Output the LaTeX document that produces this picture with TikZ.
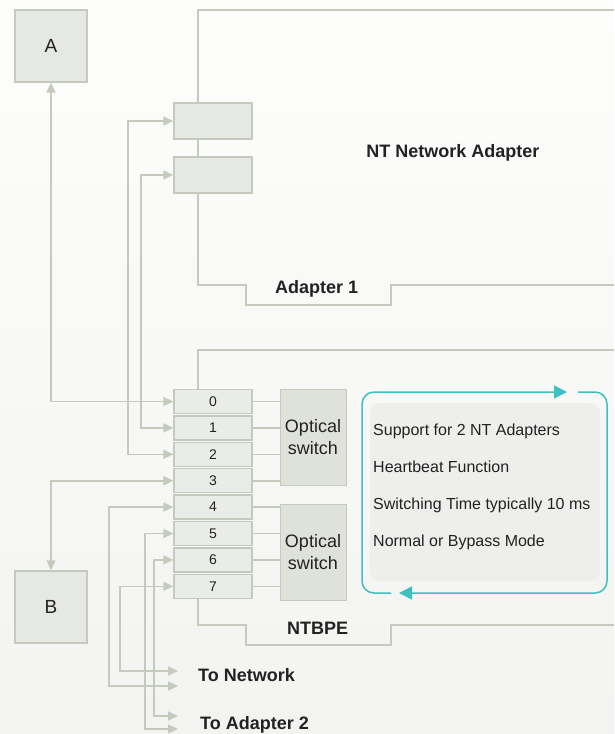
\documentclass[tikz,border=0pt]{standalone}
\usepackage{fontspec}
\setmainfont{Liberation Sans}
\usetikzlibrary{arrows.meta}
\definecolor{lnc}{HTML}{C4CBBE}
\definecolor{boxfill}{HTML}{E6E8E3}
\definecolor{portfill}{HTML}{EAECE7}
\definecolor{swfill}{HTML}{DFE1DB}
\definecolor{teal1}{HTML}{3FC0C0}
\definecolor{infofill}{HTML}{EEEFEC}
\definecolor{txt}{HTML}{222222}
\definecolor{bgtop}{HTML}{FDFDFC}
\definecolor{bgbot}{HTML}{F3F3F1}
\begin{document}
\begin{tikzpicture}[x=1pt,y=-1pt,
  conn/.style={draw=lnc, line width=1.6pt},
  biarrow/.style={conn, {Triangle[length=10pt,width=9pt]}-{Triangle[length=10pt,width=9pt]}},
  gbox/.style={draw=lnc, line width=1.4pt, fill=boxfill, inner sep=0pt, text=txt},
  bigbox/.style={gbox, minimum width=72pt, minimum height=72pt, font=\fontsize{19}{22}\selectfont},
  adbox/.style={gbox, minimum width=78pt, minimum height=36pt},
  portbox/.style={gbox, fill=portfill, minimum width=78pt, minimum height=24pt, font=\fontsize{14}{16}\selectfont},
  swbox/.style={draw=lnc, line width=1pt, fill=swfill, inner sep=0pt, minimum width=66pt, minimum height=96pt, align=center, text=txt, font=\fontsize{18}{22.7}\selectfont},
  blabel/.style={text=txt, font=\bfseries\fontsize{18}{21}\selectfont, inner sep=0pt},
  info/.style={text=txt, font=\fontsize{16}{19}\selectfont, inner sep=0pt, anchor=base west},
  tealarrow/.style={draw=teal1, line width=1.5pt, rounded corners=12pt, -{Triangle[length=13pt,width=13pt]}}
]
% background
\begin{scope}[y=1pt]
\shade[top color=bgtop, bottom color=bgbot] (0,-734) rectangle (614,0);
\end{scope}
\useasboundingbox (0,0) rectangle (614,734);

% nodes
\node[bigbox] (A) at (51,46) {A};
\node[bigbox] (B) at (51,607) {B};
\node[adbox] (ad1) at (213,121) {};
\node[adbox] (ad2) at (213,175) {};
\foreach \i in {0,...,7}{
  \node[portbox] (p\i) at (213,{401.5+26.4*\i}) {\i};
}
\node[swbox] (sw1) at (313,437) {Optical\\switch};
\node[swbox] (sw2) at (313,552) {Optical\\switch};

% enclosure lines
\draw[conn] ([xshift=-15pt]ad1.north) -- (198,10) -- (614,10);
\draw[conn] ([xshift=-15pt]ad1.south) -- ([xshift=-15pt]ad2.north);
\draw[conn] ([xshift=-15pt]ad2.south) -- (198,285) -- (246,285) -- (246,305) -- (391,305) -- (391,285) -- (614,285);
\draw[conn] ([xshift=-15pt]p0.north) -- (198,350) -- (614,350);
\draw[conn] ([xshift=-15pt]p7.south) -- (198,625) -- (246,625) -- (246,645) -- (391,645) -- (391,625) -- (614,625);

% port to switch
\foreach \i in {0,...,3}{ \draw[conn] (p\i.east) -- (p\i.east -| sw1.west); }
\foreach \i in {4,...,7}{ \draw[conn] (p\i.east) -- (p\i.east -| sw2.west); }

% free ends
\coordinate (net1) at (178,671);
\coordinate (net2) at (178,686);
\coordinate (adp1) at (178,716);
\coordinate (adp2) at (178,729);
\coordinate (x128) at (128,0);
\coordinate (x141) at (141,0);
\coordinate (x109) at (109,0);
\coordinate (x120) at (120,0);
\coordinate (x145) at (145,0);
\coordinate (x154) at (154,0);

% connectors
\draw[biarrow] (A.south) |- (p0.west);
\draw[biarrow] (ad1.west) -| (x128 |- p2.west) -- (p2.west);
\draw[biarrow] (ad2.west) -| (x141 |- p1.west) -- (p1.west);
\draw[biarrow] (p3.west) -| (B.north);
\draw[biarrow] (p4.west) -| (x109 |- net2) -- (net2);
\draw[biarrow] (p7.west) -| (x120 |- net1) -- (net1);
\draw[biarrow] (p5.west) -| (x145 |- adp2) -- (adp2);
\draw[biarrow] (p6.west) -| (x154 |- adp1) -- (adp1);

% labels
\node[blabel, anchor=base] (lnt) at (453,157.3) {NT Network Adapter};
\node[blabel, anchor=base west] (la1) at (275,293.5) {Adapter 1};
\node[blabel, anchor=base west] (lntb) at (287,634) {NTBPE};
\node[blabel, anchor=base west] (ltn) at (198,681.7) {To Network};
\node[blabel, anchor=base west] (lta) at (200,729.3) {To Adapter 2};

% info panel
\fill[infofill, rounded corners=10pt] (370,403) rectangle (600,581);
\node[info] (i1) at (373,435.7) {Support for 2 NT Adapters};
\node[info] (i2) at (373,472.3) {Heartbeat Function};
\node[info] (i3) at (373,509.3) {Switching Time typically 10 ms};
\node[info] (i4) at (373,546.7) {Normal or Bypass Mode};
\coordinate (t1) at (578,392);
\coordinate (t2) at (399,593);
\coordinate (t3) at (391,593);
\coordinate (t4) at (567,392);
\draw[tealarrow] (t1) -- (607,392) -- (607,593) -- (t2);
\draw[tealarrow] (t3) -- (362,593) -- (362,392) -- (t4);
\end{tikzpicture}
\end{document}
